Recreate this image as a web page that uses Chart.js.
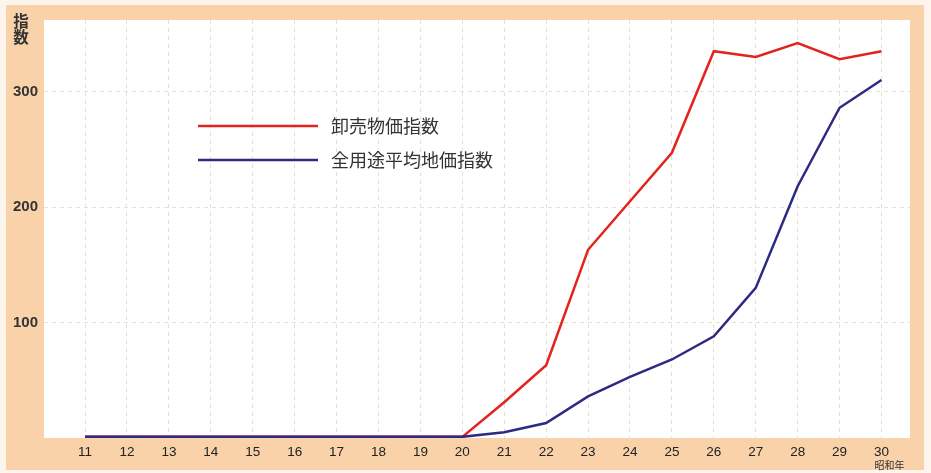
<!DOCTYPE html>
<html lang="ja">
<head>
<meta charset="utf-8">
<title>卸売物価指数と全用途平均地価指数</title>
<script src="https://cdn.jsdelivr.net/npm/chart.js@4.4.0/dist/chart.umd.min.js"></script>
<style>
    html, body { margin: 0; padding: 0; background: #fdf5ec; }
    #wrap { width: 931px; height: 473px; }
</style>
</head>
<body>
<div id="wrap"><canvas id="priceChart" width="931" height="473"></canvas></div>
<script>
// 昭和11年〜30年
const years = [11, 12, 13, 14, 15, 16, 17, 18, 19, 20, 21, 22, 23, 24, 25, 26, 27, 28, 29, 30];
const wholesaleIndex = [1, 1, 1, 1, 1, 1, 1, 1, 1, 1, 31, 63, 163, 205, 247, 335, 330, 342, 328, 335];
const landIndex = [1, 1, 1, 1, 1, 1, 1, 1, 1, 1, 5, 13, 36, 53, 68, 88, 130, 218, 286, 310];
const yTicks = [100, 200, 300];
const seriesNames = ['卸売物価指数', '全用途平均地価指数'];
const yTitle = ['指', '数'];
const xUnit = '昭和年';

const numFont = '"Liberation Sans", Arial, sans-serif';
const jpFont = '"Noto Sans CJK JP", "Noto Sans", sans-serif';

// frame, white plot area, axis captions and the in-plot legend
const framePlugin = {
    id: 'frame',
    beforeDraw(chart) {
        const ctx = chart.ctx;
        const area = chart.chartArea;
        ctx.save();
        ctx.fillStyle = '#fdf5ec';
        ctx.fillRect(0, 0, chart.width, chart.height);
        ctx.fillStyle = '#f9d2aa';
        ctx.fillRect(6, 5, chart.width - 13, chart.height - 8);
        ctx.fillStyle = '#ffffff';
        ctx.fillRect(area.left, area.top, area.right - area.left, area.bottom - area.top);
        ctx.restore();
    },
    afterDraw(chart) {
        const ctx = chart.ctx;
        const area = chart.chartArea;
        const x = chart.scales.x;
        ctx.save();
        ctx.fillStyle = '#333333';
        ctx.font = 'bold 15.5px ' + jpFont;
        ctx.textAlign = 'center';
        ctx.textBaseline = 'middle';
        yTitle.forEach((ch, i) => ctx.fillText(ch, 21, 21 + i * 16));

        ctx.font = '10px ' + jpFont;
        ctx.fillText(xUnit, x.getPixelForValue(years[years.length - 1]) + 8, chart.height - 8);

        // legend
        ctx.font = '18px ' + jpFont;
        ctx.textAlign = 'left';
        chart.data.datasets.forEach((ds, i) => {
            const ly = area.top + 106 + i * 34;
            const lx = area.left + 154;
            ctx.strokeStyle = ds.borderColor;
            ctx.lineWidth = 2.5;
            ctx.beginPath();
            ctx.moveTo(lx, ly);
            ctx.lineTo(lx + 120, ly);
            ctx.stroke();
            ctx.fillStyle = '#333333';
            ctx.fillText(ds.label, lx + 133, ly);
        });
        ctx.restore();
    }
};

new Chart(document.getElementById('priceChart'), {
    type: 'line',
    data: {
        datasets: [
            {
                label: seriesNames[0],
                data: years.map((yr, i) => ({ x: yr, y: wholesaleIndex[i] })),
                borderColor: '#e3231d',
                borderWidth: 2.5,
                pointRadius: 0,
                tension: 0,
                order: 2
            },
            {
                label: seriesNames[1],
                data: years.map((yr, i) => ({ x: yr, y: landIndex[i] })),
                borderColor: '#2d2a84',
                borderWidth: 2.5,
                pointRadius: 0,
                tension: 0,
                order: 1
            }
        ]
    },
    options: {
        responsive: false,
        animation: false,
        layout: { padding: { top: 20, right: 21, left: 0, bottom: 0 } },
        plugins: {
            legend: { display: false },
            tooltip: { enabled: false }
        },
        scales: {
            x: {
                type: 'linear',
                min: 10.02,
                max: 30.68,
                afterBuildTicks: s => { s.ticks = years.map(v => ({ value: v })); },
                afterFit: s => { s.height = 35; },
                border: { display: false, dash: [4, 4] },
                grid: {
                    color: '#e3e0d6',
                    lineWidth: 1,
                    drawTicks: false
                },
                ticks: {
                    padding: 6,
                    color: '#222222',
                    font: { family: numFont, size: 13.5 },
                    maxRotation: 0,
                    autoSkip: false
                }
            },
            y: {
                min: 0,
                max: 362,
                afterBuildTicks: s => { s.ticks = yTicks.map(v => ({ value: v })); },
                afterFit: s => { s.width = 44; },
                border: { display: false, dash: [4, 4] },
                grid: {
                    color: '#e9e2c6',
                    lineWidth: 1,
                    drawTicks: false
                },
                ticks: {
                    padding: 6,
                    color: '#333333',
                    font: { family: numFont, size: 15, weight: 'bold' }
                }
            }
        }
    },
    plugins: [framePlugin]
});
</script>
</body>
</html>
